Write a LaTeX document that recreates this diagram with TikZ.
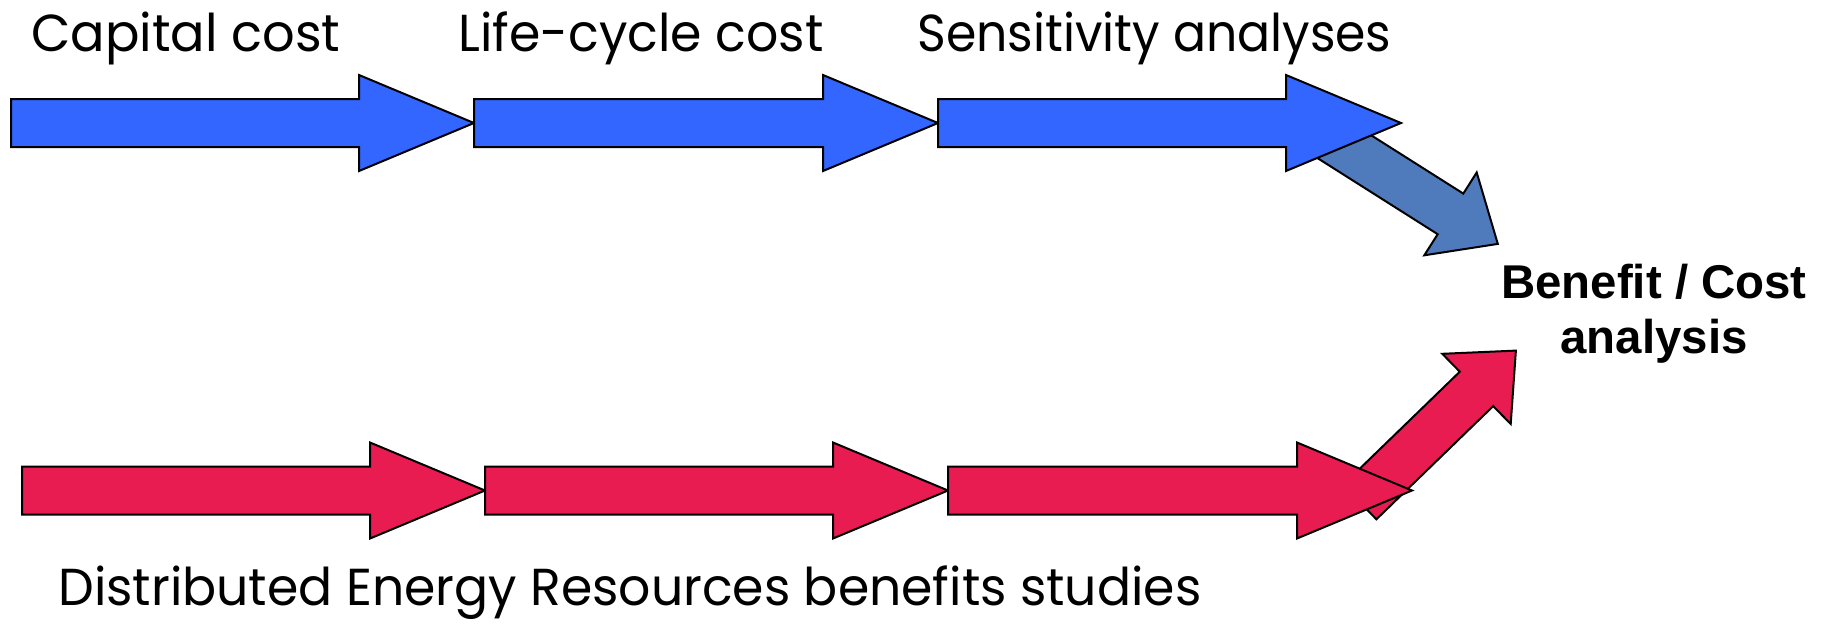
\documentclass[tikz,border=0pt]{standalone}
\usepackage{fontspec}
\setmainfont{Poppins}
\newfontfamily\bcfont{Liberation Sans}
\usepackage{graphicx}
\definecolor{arrblue}{RGB}{51,102,255}
\definecolor{diagblue}{RGB}{79,123,189}
\definecolor{arrred}{RGB}{233,28,82}
\newcommand\fitlab[2]{\sbox0{#2}\pgfmathsetmacro\fitsx{#1/\wd0}\scalebox{\fitsx}[1]{\usebox0}}
\newcommand\harrow[4]{% x0, x1, yc, colour
  \filldraw[arrshape, fill=#4] (#1,#3-24) -- (#2-115,#3-24) -- (#2-115,#3-48) -- (#2,#3)
    -- (#2-115,#3+48) -- (#2-115,#3+24) -- (#1,#3+24) -- cycle;}
\tikzset{
  arrshape/.style={draw=black, line width=1pt, line join=miter},
  lab/.style={inner sep=0pt, font=\fontsize{26}{30}\selectfont},
  bc/.style={inner sep=0pt, font=\bcfont\bfseries\fontsize{23.7}{27.5}\selectfont, align=center}
}
\begin{document}
\begin{tikzpicture}[x=0.5pt,y=-0.5pt]
\useasboundingbox (0,0) rectangle (1828,623);
% diagonal arrows (behind)
\filldraw[arrshape, fill=diagblue] (1311.2,97.3) -- (1463.3,193.6) -- (1476.7,172.5) -- (1497.8,243.9)
  -- (1424.3,255.3) -- (1437.7,234.2) -- (1285.6,137.9) -- cycle;
\filldraw[arrshape, fill=arrred] (1343.0,484.9) -- (1459.8,371.7) -- (1442.3,353.8) -- (1515.9,350.6)
  -- (1510.7,424.0) -- (1493.2,406.1) -- (1376.4,519.3) -- cycle;
% top row
\harrow{11}{474}{123}{arrblue}
\harrow{474}{938}{123}{arrblue}
\harrow{938}{1401}{123}{arrblue}
% bottom row
\harrow{22}{485}{490.5}{arrred}
\harrow{485}{948}{490.5}{arrred}
\harrow{948}{1412}{490.5}{arrred}
% labels
\node[lab, anchor=base west] (t1) at (31,51) {\fitlab{154.5pt}{Capital cost}};
\node[lab, anchor=base west] (t2) at (458,51) {\fitlab{182.5pt}{Life-cycle cost}};
\node[lab, anchor=base west] (t3) at (917,51) {\fitlab{237pt}{Sensitivity analyses}};
\node[lab, anchor=base west] (t4) at (58,605) {\fitlab{571.5pt}{Distributed Energy Resources benefits studies}};
\node[bc, anchor=base] (bc1) at (1654,298) {Benefit / Cost};
\node[bc, anchor=base] (bc2) at (1654,353) {analysis};
\end{tikzpicture}
\end{document}
